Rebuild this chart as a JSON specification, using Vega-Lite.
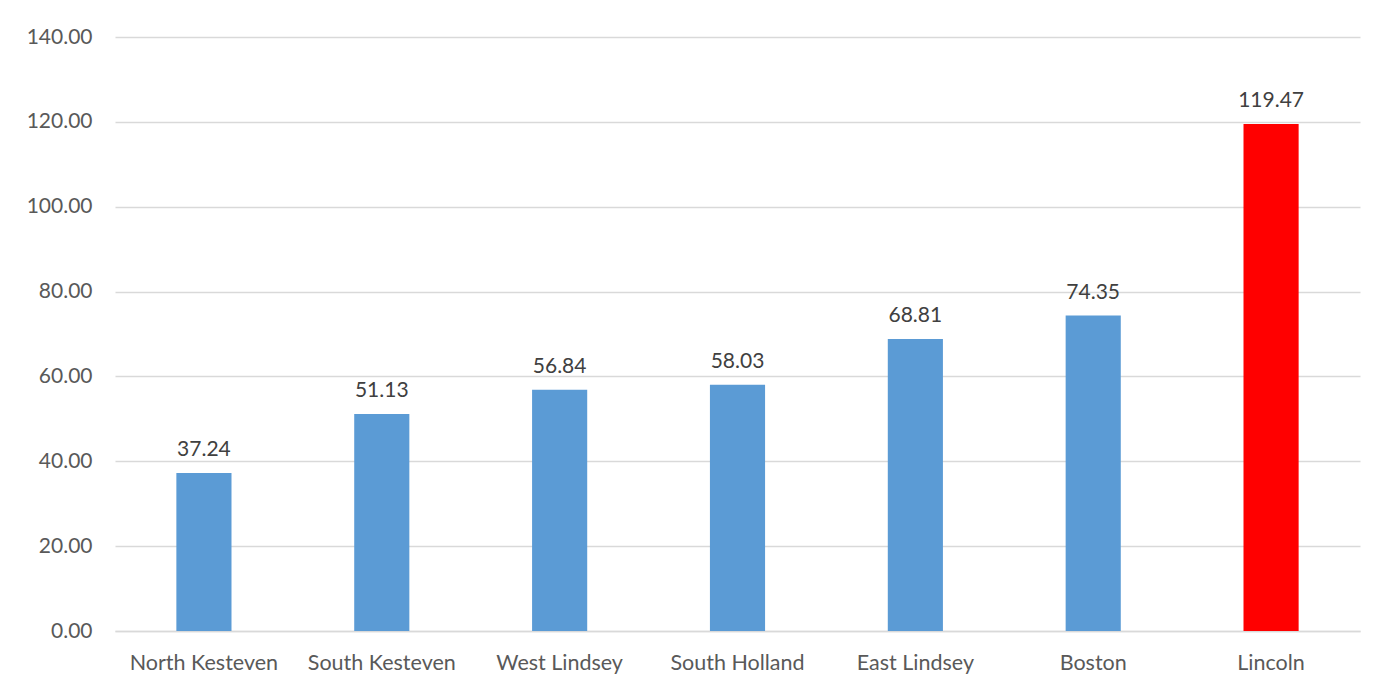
{
  "$schema": "https://vega.github.io/schema/vega-lite/v6.json",
  "autosize": {"type": "none"},
  "width": 1245,
  "height": 594,
  "padding": {"left": 115, "top": 37, "right": 34, "bottom": 58},
  "background": "white",
  "config": {
    "view": {"stroke": null},
    "font": "Lato",
    "axis": {"labelFont": "Lato", "labelFontSize": 21, "labelColor": "#595959", "ticks": false, "gridColor": "#D9D9D9", "gridWidth": 1.3}
  },
  "data": {
    "values": [
      {"district": "North Kesteven", "value": 37.24, "highlight": "no"},
      {"district": "South Kesteven", "value": 51.13, "highlight": "no"},
      {"district": "West Lindsey", "value": 56.84, "highlight": "no"},
      {"district": "South Holland", "value": 58.03, "highlight": "no"},
      {"district": "East Lindsey", "value": 68.81, "highlight": "no"},
      {"district": "Boston", "value": 74.35, "highlight": "no"},
      {"district": "Lincoln", "value": 119.47, "highlight": "yes"}
    ]
  },
  "encoding": {
    "x": {
      "field": "district", "type": "nominal", "sort": null, "title": null,
      "scale": {"paddingInner": 0.69, "paddingOuter": 0.345},
      "axis": {"labelAngle": 0, "labelPadding": 21, "labelFontSize": 21.5, "domainColor": "#D9D9D9", "domainWidth": 1.3, "grid": false}
    },
    "y": {
      "field": "value", "type": "quantitative", "title": null,
      "scale": {"domain": [0, 140], "nice": false},
      "axis": {"values": [0, 20, 40, 60, 80, 100, 120, 140], "format": ".2f", "domain": false, "labelPadding": 23}
    }
  },
  "layer": [
    {
      "mark": {"type": "bar"},
      "encoding": {
        "color": {
          "field": "highlight", "type": "nominal", "legend": null,
          "scale": {"domain": ["no", "yes"], "range": ["#5B9BD5", "#FF0000"]}
        }
      }
    },
    {
      "mark": {"type": "text", "baseline": "bottom", "dy": -13, "fontSize": 21, "color": "#404040", "font": "Lato"},
      "encoding": {"text": {"field": "value", "type": "quantitative", "format": ".2f"}}
    }
  ]
}
